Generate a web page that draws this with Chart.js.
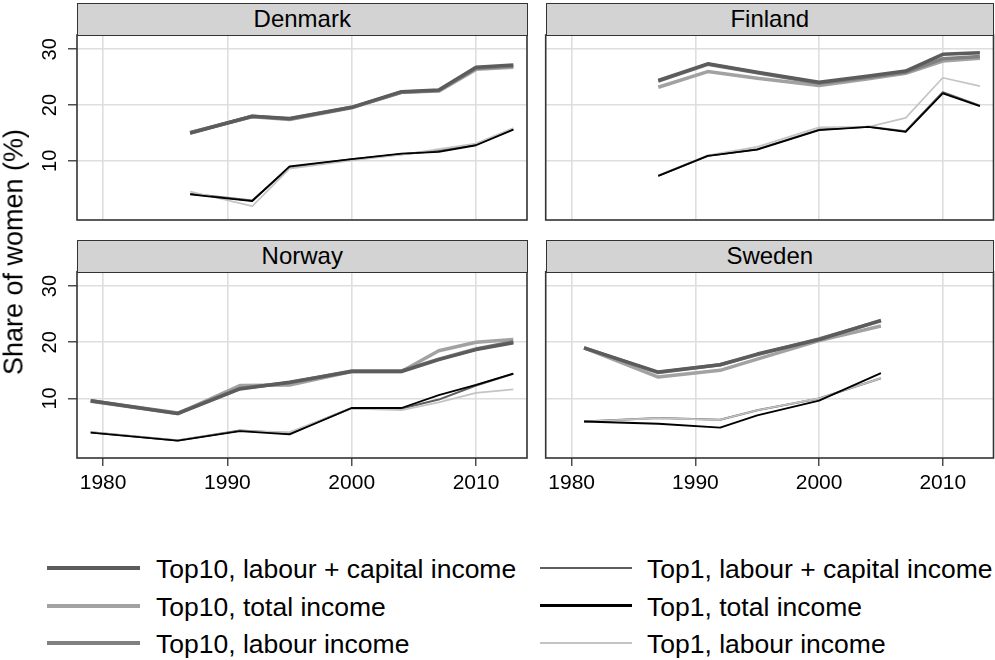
<!DOCTYPE html>
<html>
<head>
<meta charset="utf-8">
<script src="https://cdn.jsdelivr.net/npm/chart.js@4.4.1/dist/chart.umd.min.js"></script>
<style>
  html, body { margin: 0; padding: 0; background: #fff; }
  #wrap { position: relative; width: 995px; height: 660px; background: #fff; overflow: hidden;
          font-family: "Liberation Sans", Arial, sans-serif; color: #000; }
  canvas { position: absolute; }
  .strip { position: absolute; box-sizing: border-box; background: #d3d3d3; border: 1.5px solid #333;
           text-align: center; font-size: 24px; display: flex; align-items: center; justify-content: center; }
  .ytitle { position: absolute; font-size: 27px; white-space: nowrap; line-height: 1;
            transform: translate(-50%, -50%) rotate(-90deg); }
  .legline { position: absolute; }
  .legtext { position: absolute; font-size: 26.5px; white-space: nowrap; line-height: 1; transform: translateY(-50%); }
</style>
</head>
<body>
<div id="wrap">
  <canvas id="cDenmark" width="532" height="196" style="left:0px;top:30px"></canvas>
  <canvas id="cFinland" width="455" height="196" style="left:540px;top:30px"></canvas>
  <canvas id="cNorway" width="532" height="232" style="left:0px;top:266px"></canvas>
  <canvas id="cSweden" width="455" height="232" style="left:540px;top:266px"></canvas>
  <div class="strip" style="left:77px;top:2.5px;width:450.5px;height:33px">Denmark</div>
  <div class="strip" style="left:545.5px;top:2.5px;width:448.5px;height:33px">Finland</div>
  <div class="strip" style="left:77px;top:239.5px;width:450.5px;height:33px">Norway</div>
  <div class="strip" style="left:545.5px;top:239.5px;width:448.5px;height:33px">Sweden</div>
  <div class="ytitle" style="left:14px;top:252px">Share of women (%)</div>
  <div id="legend"></div>
</div>
<script>
// ---------- data ----------
const xTicks = [1980, 1990, 2000, 2010];
const yTicks = [10, 20, 30];
const seriesNames = [
  "Top10, labour + capital income",
  "Top10, total income",
  "Top10, labour income",
  "Top1, labour + capital income",
  "Top1, total income",
  "Top1, labour income"
];

const denmarkYears = [1987, 1992, 1995, 2000, 2004, 2007, 2010, 2013];
const denmarkTop10LabCap = [15.0, 18.0, 17.6, 19.6, 22.4, 22.7, 26.8, 27.2];
const denmarkTop10Total  = [15.1, 17.9, 17.4, 19.5, 22.3, 22.5, 26.4, 26.8];
const denmarkTop10Lab    = [15.0, 18.0, 17.5, 19.6, 22.3, 22.6, 26.6, 27.0];
const denmarkTop1LabCap  = [4.1, 2.9, 8.8, 10.3, 11.2, 11.8, 12.9, 15.7];
const denmarkTop1Total   = [4.0, 2.8, 9.0, 10.3, 11.3, 11.6, 12.8, 15.6];
const denmarkTop1Lab     = [4.5, 1.9, 8.6, 10.1, 11.1, 12.1, 13.1, 15.9];

const finlandYears = [1987, 1991, 1995, 2000, 2004, 2007, 2010, 2013];
const finlandTop10LabCap = [24.4, 27.4, 25.9, 24.1, 25.2, 26.1, 29.1, 29.4];
const finlandTop10Total  = [23.2, 26.0, 24.8, 23.5, 24.7, 25.7, 27.9, 28.4];
const finlandTop10Lab    = [24.3, 27.3, 25.8, 23.9, 25.0, 25.9, 28.3, 28.7];
const finlandTop1LabCap  = [7.3, 10.9, 12.1, 15.6, 16.1, 15.3, 22.3, 19.9];
const finlandTop1Total   = [7.3, 10.9, 12.0, 15.5, 16.1, 15.2, 22.1, 19.8];
const finlandTop1Lab     = [7.4, 11.0, 12.5, 16.0, 16.1, 17.7, 24.9, 23.4];

const norwayYears = [1979, 1986, 1991, 1995, 2000, 2004, 2007, 2010, 2013];
const norwayTop10LabCap = [9.6, 7.3, 11.7, 12.9, 14.8, 14.8, 16.9, 18.7, 19.9];
const norwayTop10Total  = [9.5, 7.3, 12.3, 12.4, 14.8, 14.8, 18.5, 20.0, 20.5];
const norwayTop10Lab    = [9.6, 7.4, 11.8, 12.8, 14.9, 14.9, 17.0, 18.8, 20.1];
const norwayTop1LabCap  = [4.0, 2.5, 4.3, 3.8, 8.3, 8.2, 9.8, 12.3, 14.4];
const norwayTop1Total   = [3.9, 2.5, 4.2, 3.6, 8.3, 8.3, 10.6, 12.4, 14.4];
const norwayTop1Lab     = [4.0, 2.6, 4.2, 4.0, 8.2, 7.9, 9.3, 11.0, 11.6];

const swedenYears = [1981, 1987, 1992, 1995, 2000, 2005];
const swedenTop10LabCap = [19.0, 14.7, 16.0, 17.9, 20.5, 23.9];
const swedenTop10Total  = [19.0, 13.8, 15.0, 17.0, 20.3, 22.9];
const swedenTop10Lab    = [19.0, 14.6, 16.0, 17.8, 20.6, 23.8];
const swedenTop1LabCap  = [5.9, 6.5, 6.2, 7.9, 10.0, 13.6];
const swedenTop1Total   = [5.9, 5.5, 4.8, 7.0, 9.6, 14.5];
const swedenTop1Lab     = [5.9, 6.5, 6.2, 7.9, 10.0, 13.6];

// ---------- styles ----------
const FONT = "'Liberation Sans', Arial, sans-serif";
const STYLE = [
  { color: '#5c5c5c', width: 3.5, order: 3, legW: 4 },
  { color: '#a2a2a2', width: 3.5, order: 5, legW: 4 },
  { color: '#808080', width: 3.5, order: 4, legW: 4 },
  { color: '#5e5e5e', width: 2.0, order: 2, legW: 2.2 },
  { color: '#000000', width: 1.8, order: 0, legW: 2.2 },
  { color: '#c4c4c4', width: 1.7, order: 1, legW: 2.2 }
];
const X_MIN = 1977.9, X_MAX = 2014.1;
const Y_MIN = -0.6, Y_MAX = 32.56;
const GRID = '#dedede';

const framePlugin = {
  id: 'frame',
  afterDatasetsDraw(chart) {
    const a = chart.chartArea, ctx = chart.ctx;
    ctx.save();
    ctx.strokeStyle = '#333';
    ctx.lineWidth = 1.6;
    ctx.strokeRect(a.left, a.top, a.right - a.left, a.bottom - a.top);
    ctx.restore();
  }
};

function panel(id, years, values, o) {
  const datasets = values.map((vals, i) => ({
    label: seriesNames[i],
    data: years.map((yr, j) => ({ x: yr, y: vals[j] })),
    borderColor: STYLE[i].color,
    borderWidth: STYLE[i].width,
    pointRadius: 0,
    tension: 0,
    fill: false,
    order: STYLE[i].order,
    borderJoinStyle: 'round',
    borderCapStyle: 'butt'
  }));
  new Chart(document.getElementById(id), {
    type: 'line',
    data: { datasets },
    options: {
      responsive: false,
      animation: false,
      devicePixelRatio: 1,
      layout: { padding: o.padding },
      plugins: { legend: { display: false }, tooltip: { enabled: false }, title: { display: false } },
      scales: {
        x: {
          type: 'linear', min: X_MIN, max: X_MAX,
          afterBuildTicks: s => { s.ticks = xTicks.map(v => ({ value: v })); },
          afterFit: s => { s.height = o.xHeight; s.paddingLeft = 0; s.paddingRight = 0; },
          border: { display: false },
          grid: { color: GRID, lineWidth: 1.6, drawTicks: o.showX, tickLength: 8,
                  tickColor: '#222', tickWidth: 1.2 },
          ticks: { display: o.showX, padding: 5, color: '#000', autoSkip: false,
                   maxRotation: 0, minRotation: 0, font: { family: FONT, size: 21 },
                   callback: v => String(v) }
        },
        y: {
          type: 'linear', min: Y_MIN, max: Y_MAX, position: 'left',
          afterBuildTicks: s => { s.ticks = yTicks.map(v => ({ value: v })); },
          afterFit: s => { s.width = o.yWidth; s.paddingTop = 0; s.paddingBottom = 0; },
          border: { display: false },
          grid: { color: GRID, lineWidth: 1.6, drawTicks: o.showY, tickLength: 9,
                  tickColor: '#222', tickWidth: 1.2 },
          ticks: { display: o.showY, padding: 6, color: '#000', crossAlign: 'center',
                   minRotation: 90, maxRotation: 90, font: { family: FONT, size: 20 },
                   callback: v => String(v) }
        }
      }
    },
    plugins: [framePlugin]
  });
}

panel('cDenmark', denmarkYears,
  [denmarkTop10LabCap, denmarkTop10Total, denmarkTop10Lab, denmarkTop1LabCap, denmarkTop1Total, denmarkTop1Lab],
  { padding: { left: 0, right: 5, top: 5, bottom: 6 }, xHeight: 0, yWidth: 77, showX: false, showY: true });
panel('cFinland', finlandYears,
  [finlandTop10LabCap, finlandTop10Total, finlandTop10Lab, finlandTop1LabCap, finlandTop1Total, finlandTop1Lab],
  { padding: { left: 5.7, right: 1.5, top: 5, bottom: 6 }, xHeight: 0, yWidth: 0, showX: false, showY: false });
panel('cNorway', norwayYears,
  [norwayTop10LabCap, norwayTop10Total, norwayTop10Lab, norwayTop1LabCap, norwayTop1Total, norwayTop1Lab],
  { padding: { left: 0, right: 5, top: 5.7, bottom: 0 }, xHeight: 40, yWidth: 77, showX: true, showY: true });
panel('cSweden', swedenYears,
  [swedenTop10LabCap, swedenTop10Total, swedenTop10Lab, swedenTop1LabCap, swedenTop1Total, swedenTop1Lab],
  { padding: { left: 5.7, right: 1.5, top: 5.7, bottom: 0 }, xHeight: 40, yWidth: 0, showX: true, showY: false });

// ---------- legend ----------
const legendCols = [
  { lineLeft: 47, lineWidth: 93, textLeft: 156 },
  { lineLeft: 540, lineWidth: 92, textLeft: 647 }
];
const legendRows = [568, 605.5, 642.7];
const leg = document.getElementById('legend');
seriesNames.forEach((name, i) => {
  const col = legendCols[Math.floor(i / 3)];
  const y = legendRows[i % 3];
  const ln = document.createElement('div');
  ln.className = 'legline';
  const h = STYLE[i].legW;
  ln.style.cssText = `left:${col.lineLeft}px;top:${y - h / 2}px;width:${col.lineWidth}px;height:${h}px;background:${STYLE[i].color}`;
  leg.appendChild(ln);
  const tx = document.createElement('div');
  tx.className = 'legtext';
  tx.style.left = col.textLeft + 'px';
  tx.style.top = (y + 1) + 'px';
  tx.textContent = name;
  leg.appendChild(tx);
});
</script>
</body>
</html>
